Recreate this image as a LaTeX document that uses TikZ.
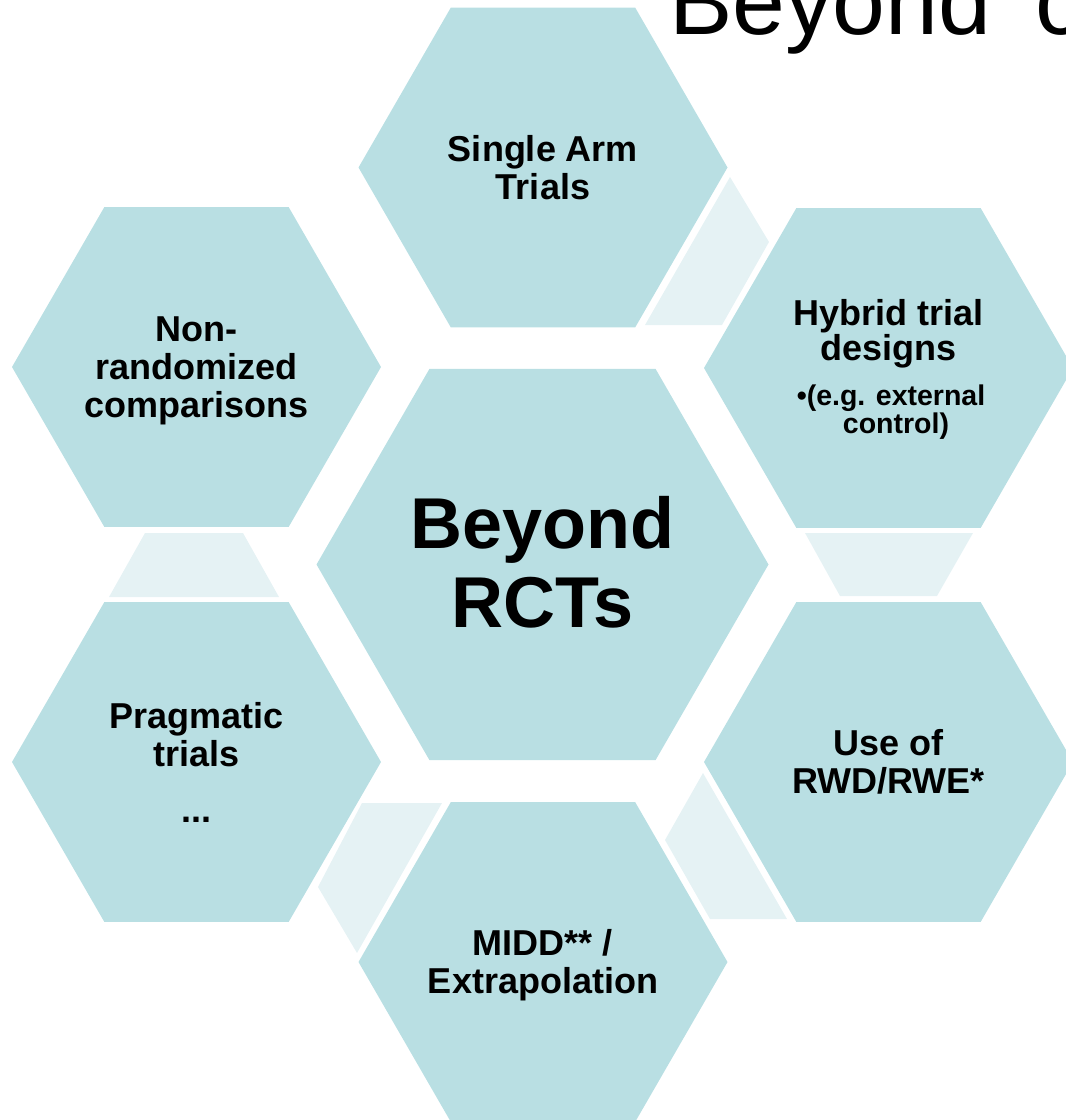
\documentclass[tikz,border=0pt]{standalone}
\usepackage{fontspec}
\setmainfont{Liberation Sans}
\usetikzlibrary{shapes.geometric}
\definecolor{hexfill}{HTML}{B9DFE3}
\definecolor{linkfill}{HTML}{E5F2F4}
\begin{document}
\begin{tikzpicture}[x=1pt,y=-1pt,
  cell/.style={regular polygon, regular polygon sides=6, fill=hexfill, draw=none,
    inner sep=0pt, minimum size=369pt},
  bigcell/.style={cell, minimum size=452pt},
  txt/.style={inner sep=0pt, align=center, font=\bfseries\fontsize{36}{38}\selectfont},
  bigtxt/.style={txt, font=\bfseries\fontsize{72}{79}\selectfont},
  tighttxt/.style={txt, font=\bfseries\fontsize{36}{32}\selectfont},
  subtxt/.style={txt, font=\bfseries\fontsize{28.5}{23.5}\selectfont},
  link/.style={fill=linkfill, draw=none}]
\useasboundingbox (0,0) rectangle (1066,1120);
\clip (0,0) rectangle (1066,1120);

% heading, running off the top and right edges
\node[anchor=base west, inner sep=0pt, font=\fontsize{95}{95}\selectfont] (title)
  at (669,34) {Beyond\hspace{44pt}c};

% light connecting pieces between neighbouring cells
\fill[link] (730,177) -- (769,242) -- (722,325) -- (645,325) -- cycle;
\fill[link] (805,533) -- (973,533) -- (937,596) -- (840,596) -- cycle;
\fill[link] (703,773) -- (787,919) -- (710,919) -- (665,840) -- cycle;
\fill[link] (362,803) -- (442,803) -- (357,953) -- (318,887) -- cycle;
\fill[link] (145,533) -- (243,533) -- (279,597) -- (109,597) -- cycle;

% hexagonal cells
\node[bigcell] (br) at (542.5,564.5) {};
\node[cell] (sa) at (543,167.5) {};
\node[cell] (nr) at (196.5,367) {};
\node[cell] (hy) at (888.5,368) {};
\node[cell] (pr) at (196.5,762) {};
\node[cell] (rw) at (888.5,762) {};
\node[cell] (mi) at (543,962) {};

% cell texts
\node[bigtxt] (brt) at ([yshift=2pt]br.center) {Beyond\\RCTs};
\node[txt] (sat) at (sa.center) {Single Arm\\Trials};
\node[txt] (nrt) at ([yshift=-4pt]nr.center) {Non-\\randomized\\comparisons};
\node[tighttxt] (hyt) at ([yshift=34pt]hy.center) {Hybrid trial\\designs};
\node[subtxt] (hys) at ([xshift=7.5pt,yshift=-44pt]hy.center) {\llap{\textbullet}(e.g. external\\control)};
\node[txt] (prt) at (pr.center) {Pragmatic\\trials\\[18pt]...};
\node[txt] (rwt) at (rw.center) {Use of\\RWD/RWE*};
\node[txt] (mit) at ([yshift=-3pt]mi.center) {MIDD** /\\Extrapolation};
\end{tikzpicture}
\end{document}
